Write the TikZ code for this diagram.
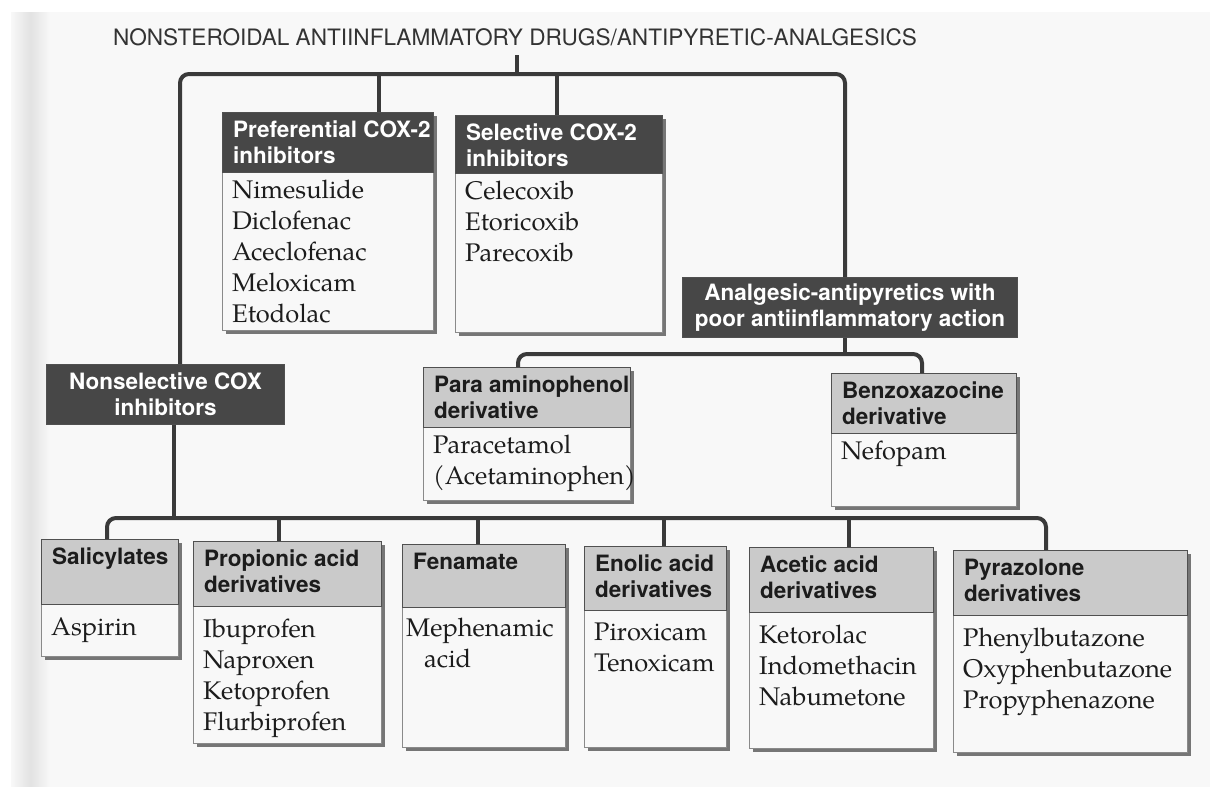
\documentclass[tikz,border=0pt]{standalone}
\usepackage{fontspec}
\setmainfont{TeX Gyre Pagella}
\setsansfont{TeX Gyre Heros}
\usetikzlibrary{calc}

\definecolor{pagebg}{HTML}{F8F8F8}
\definecolor{scanband}{HTML}{E2E2E2}
\definecolor{linec}{HTML}{3A3A3A}
\definecolor{headdark}{HTML}{474747}
\definecolor{headlight}{HTML}{CACACA}
\definecolor{boxline}{HTML}{505050}
\definecolor{bodyline}{HTML}{8A8A8A}
\definecolor{shadowc}{HTML}{767676}
\definecolor{inkc}{HTML}{1C1C1C}

\newcommand\headfont{\sffamily\bfseries\fontsize{22.5}{26}\selectfont}
\newcommand\bodyfont{\rmfamily\fontsize{25.5}{31}\selectfont}
\newcommand\hstrut{\rule{0pt}{17pt}}
\newcommand\bstrut{\rule{0pt}{20pt}}

\tikzset{
  conn/.style={draw=linec, line width=4pt, rounded corners=9pt},
  headbase/.style={anchor=north west, inner sep=0pt, draw=boxline, line width=1pt},
  darkhead/.style={headbase, fill=headdark},
  lighthead/.style={headbase, fill=headlight},
  darkheadtext/.style={anchor=north west, inner sep=0pt, align=left, text=white, font=\headfont},
  lightheadtext/.style={anchor=north west, inner sep=0pt, align=left, text=inkc, font=\headfont},
  bodybox/.style={anchor=north west, inner sep=0pt, draw=bodyline, line width=1pt, fill=pagebg},
  bodytext/.style={anchor=north west, inner sep=0pt, align=left, text=inkc, font=\bodyfont},
  groupbox/.style={anchor=north west, inner sep=0pt, fill=headdark, draw=boxline, line width=1pt,
                   text=white, font=\headfont, align=center},
  titletext/.style={font=\sffamily\fontsize{22.6}{26}\selectfont, text=inkc!90}
}

% category box: #1 name, #2 x, #3 y, #4 width, #5 header height, #6 body height,
% #7 header style, #8 header text, #9 list of drugs
\newcommand\catbox[9]{%
  \fill[shadowc] (#2+4,#3+4) rectangle (#2+#4+4,#3+#5+#6+4);
  \node[bodybox, minimum width=#4pt, minimum height=#6pt] (#1b) at (#2,#3+#5) {};
  \node[#7, minimum width=#4pt, minimum height=#5pt] (#1h) at (#2,#3) {};
  \node[#7text] (#1ht) at (#2+11,#3+8) {\hstrut#8};
  \node[bodytext] (#1bt) at ({#2+10},{#3+#5+max(6,#5-54)}) {\bstrut#9};
}

\begin{document}
\begin{tikzpicture}[x=1pt, y=-1pt]
\useasboundingbox (0,0) rectangle (1210,787);
\fill[white] (0,0) rectangle (1210,787);
\fill[pagebg] (11,12) rectangle (1210,787);
\shade[left color=pagebg, right color=pagebg, middle color=scanband, shading angle=90]
  (11,12) rectangle (50,787);

% title
\node[titletext] (title) at (515,37) {NONSTEROIDAL ANTIINFLAMMATORY DRUGS/ANTIPYRETIC-ANALGESICS};

% junction points of the connector buses
\coordinate (busTop) at (517,74);
\coordinate (leftTop) at (180,74);
\coordinate (rightTop) at (845,74);
\coordinate (prefX) at (379,74);
\coordinate (selX) at (557,74);
\coordinate (midJoin) at (845,354);
\coordinate (midL) at (518,354);
\coordinate (midR) at (922,354);
\coordinate (nsJoin) at (174,518);
\coordinate (botL) at (107,518);
\coordinate (botR) at (1046,518);
\coordinate (propX) at (279,518);
\coordinate (fenX) at (478,518);
\coordinate (enoX) at (664,518);
\coordinate (aceX) at (849,518);

% group boxes
\node[groupbox, minimum width=238pt, minimum height=60pt] (nonsel) at (46,364)
  {Nonselective COX\\inhibitors};
\node[groupbox, minimum width=335pt, minimum height=60pt] (analg) at (682,277)
  {Analgesic-antipyretics with\\poor antiinflammatory action};

% connectors
\draw[conn, shorten <=6pt] (busTop |- title.south) -- (busTop);
\draw[conn] (leftTop |- nonsel.north) -- (leftTop) -- (rightTop) -- (rightTop |- analg.north);

% category boxes
\catbox{pref}{222}{112}{211}{60}{158}{darkhead}{Preferential COX-2\\inhibitors}
  {Nimesulide\\Diclofenac\\Aceclofenac\\Meloxicam\\Etodolac}
\catbox{sel}{455}{115}{207}{58}{159}{darkhead}{Selective COX-2\\inhibitors}
  {Celecoxib\\Etoricoxib\\Parecoxib}
\catbox{para}{423}{367}{207}{60}{73}{lighthead}{Para aminophenol\\derivative}
  {Paracetamol\\(Acetaminophen)}
\catbox{benz}{831}{373}{185}{60}{73}{lighthead}{Benzoxazocine\\derivative}
  {Nefopam}
\catbox{sal}{41}{539}{137}{65}{52}{lighthead}{Salicylates}
  {Aspirin}
\catbox{prop}{193}{541}{188}{65}{137}{lighthead}{Propionic acid\\derivatives}
  {Ibuprofen\\Naproxen\\Ketoprofen\\Flurbiprofen}
\catbox{fen}{402}{544}{163}{63}{140}{lighthead}{Fenamate}
  {\hspace*{-6pt}Mephenamic\\\hspace*{12pt}acid}
\catbox{eno}{584}{546}{142}{64}{137}{lighthead}{Enolic acid\\derivatives}
  {Piroxicam\\Tenoxicam}
\catbox{ace}{749}{547}{184}{65}{136}{lighthead}{Acetic acid\\derivatives}
  {Ketorolac\\Indomethacin\\Nabumetone}
\catbox{pyr}{953}{550}{234}{65}{137}{lighthead}{Pyrazolone\\derivatives}
  {Phenylbutazone\\Oxyphenbutazone\\Propyphenazone}

% drops to the category boxes
\draw[conn] (prefX) -- (prefX |- prefh.north);
\draw[conn] (selX) -- (selX |- selh.north);
\draw[conn] (analg.south -| midJoin) -- (midJoin);
\draw[conn] (midL |- parah.north) -- (midL) -- (midR) -- (midR |- benzh.north);
\draw[conn] (nonsel.south -| nsJoin) -- (nsJoin);
\draw[conn] (botL |- salh.north) -- (botL) -- (botR) -- (botR |- pyrh.north);
\draw[conn] (propX) -- (propX |- proph.north);
\draw[conn] (fenX) -- (fenX |- fenh.north);
\draw[conn] (enoX) -- (enoX |- enoh.north);
\draw[conn] (aceX) -- (aceX |- aceh.north);
\end{tikzpicture}
\end{document}
